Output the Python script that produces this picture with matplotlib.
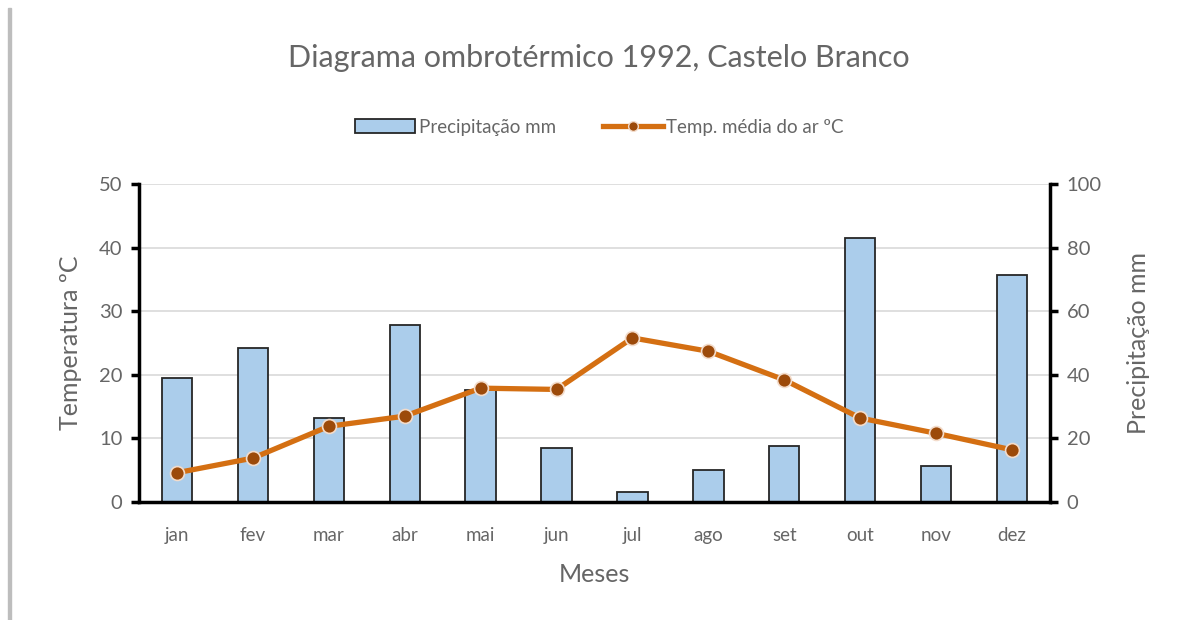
import matplotlib.pyplot as plt
import matplotlib.patches as mpatches
from matplotlib.lines import Line2D
import numpy as np

meses = ["jan", "fev", "mar", "abr", "mai", "jun", "jul", "ago", "set", "out", "nov", "dez"]
precipitacao = [39.0, 48.3, 26.4, 55.7, 35.3, 17.0, 3.2, 10.1, 17.5, 82.9, 11.2, 71.3]
temperatura = [4.6, 6.9, 11.9, 13.5, 17.9, 17.7, 25.8, 23.7, 19.2, 13.2, 10.8, 8.2]

plt.rcParams["font.family"] = ["Lato", "DejaVu Sans"]
txt = "#666666"

fig = plt.figure(figsize=(11.82, 6.2), dpi=100)
fig.patches.append(mpatches.Rectangle((8 / 1182, 0), 3 / 1182, 612 / 620,
                                      transform=fig.transFigure, color="#bdbdbd", zorder=0))

ax = fig.add_axes([139 / 1182, 118 / 620, 911 / 1182, 318 / 620])
ax2 = ax.twinx()

x = np.arange(len(meses))
ax2.bar(x, precipitacao, width=0.4, color="#abcdeb", edgecolor="#262626", linewidth=1.3, zorder=2)
ax2.set_ylim(0, 100)
ax2.set_yticks(np.arange(0, 101, 20))
ax2.grid(axis="y", color="#d9d9d9", linewidth=1.2, zorder=0)
ax2.set_axisbelow(True)

ax.set_zorder(ax2.get_zorder() + 1)
ax.patch.set_visible(False)
ax.plot(x, temperatura, color="#d46f12", linewidth=3.8, marker="o", markersize=10,
        markerfacecolor="#9c4a0a", markeredgecolor="#f3dccb", markeredgewidth=1.2, zorder=3)
ax.set_ylim(0, 50)
ax.set_yticks(np.arange(0, 51, 10))
ax.set_xlim(-0.5, 11.5)
ax.set_xticks(x)
ax.set_xticklabels(meses)

for a in (ax, ax2):
    for s in a.spines.values():
        s.set_visible(False)
ax.spines["left"].set_visible(True)
ax.spines["left"].set_linewidth(2.5)
ax.spines["bottom"].set_visible(True)
ax.spines["bottom"].set_linewidth(2.5)
ax2.spines["right"].set_visible(True)
ax2.spines["right"].set_linewidth(2.5)

ax.tick_params(axis="y", length=6, width=2.5, labelsize=14.5, labelcolor=txt, pad=6)
ax.tick_params(axis="x", length=0, labelsize=13.5, labelcolor=txt, pad=18)
ax2.tick_params(axis="y", length=6, width=2.5, labelsize=14.5, labelcolor=txt, pad=6)

ax.set_ylabel("Temperatura ºC", fontsize=18, color=txt, labelpad=12)
ax2.set_ylabel("Precipitação mm", fontsize=18, color=txt, labelpad=18)
ax.set_xlabel("Meses", fontsize=18, color=txt, labelpad=14)

fig.text(0.507, 0.907, "Diagrama ombrotérmico 1992, Castelo Branco", ha="center", va="center",
         fontsize=22, color=txt)

handles = [
    mpatches.Patch(facecolor="#abcdeb", edgecolor="#262626", linewidth=1.3),
    Line2D([], [], color="#d46f12", linewidth=3.8, marker="o", markersize=7,
           markerfacecolor="#9c4a0a", markeredgecolor="#f3dccb"),
]
fig.legend(handles, ["Precipitação mm", "Temp. média do ar ºC"], loc="center",
           bbox_to_anchor=(0.507, 0.795), ncol=2, frameon=False, fontsize=13.5,
           labelcolor=txt, handlelength=3.2, handletextpad=0.2, columnspacing=2.5)

fig.savefig("out.png", dpi=100)
